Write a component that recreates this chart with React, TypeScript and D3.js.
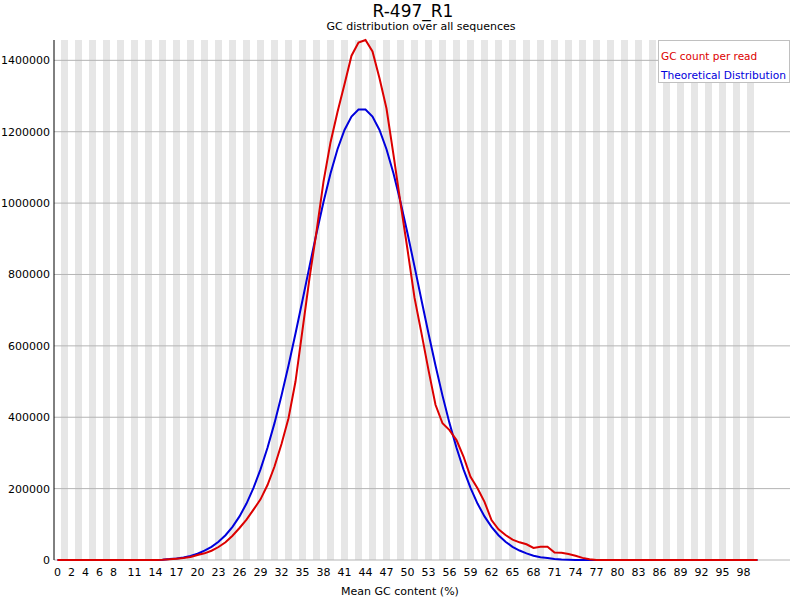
import * as d3 from 'd3'

// GC content (%) categories 0..100
const gcPercent: number[] = d3.range(0, 101)

// GC count per read
const gcCount: number[] = [
  0, 0, 0, 0, 0, 0, 0, 0, 0, 0,
  0, 0, 0, 0, 0, 500, 2000, 3700, 5600, 8400,
  14000, 18700, 26000, 36400, 49500, 68000, 89700, 113000, 141000, 170000,
  210000, 262000, 325000, 397000, 500000, 645000, 790000, 920000, 1060000, 1170000,
  1255000, 1333000, 1413000, 1450000, 1457000, 1425000, 1350000, 1265000, 1135000, 1000000,
  870000, 735000, 635000, 532000, 435000, 383000, 364000, 336000, 290000, 233000,
  201000, 163000, 112000, 86000, 70000, 57000, 49500, 44000, 33600, 37000,
  37000, 21000, 20000, 17000, 12000, 6000, 1900, 0, 0, 0,
  0, 0, 0, 0, 0, 0, 0, 0, 0, 0,
  0, 0, 0, 0, 0, 0, 0, 0, 0, 0,
  0,
]

// Theoretical distribution
const theoretical: number[] = [
  0, 0, 0, 0, 0, 0, 0, 0, 0, 0,
  0, 0, 0, 0, 300, 1000, 2500, 4500, 7000, 11000,
  17500, 26000, 37000, 51100, 69400, 92800, 122100, 158200, 202000, 253900,
  314500, 383500, 460600, 544800, 634600, 728000, 822700, 915500, 1003000, 1083000,
  1151000, 1205000, 1242500, 1262000, 1262000, 1242500, 1205000, 1151000, 1083000, 1003000,
  915500, 822700, 728000, 634600, 544800, 460600, 383500, 314500, 253900, 202000,
  158200, 122100, 92800, 69400, 51100, 37000, 26500, 18700, 12000, 8000,
  5500, 3000, 1500, 800, 300, 0, 0, 0, 0, 0,
  0, 0, 0, 0, 0, 0, 0, 0, 0, 0,
  0, 0, 0, 0, 0, 0, 0, 0, 0, 0,
  0,
]

const xTickLabels: number[] = [0, 2, 4, 6, 8, 11, 14, 17, 20, 23, 26, 29, 32, 35, 38, 41, 44, 47, 50, 53, 56, 59, 62, 65, 68, 71, 74, 77, 80, 83, 86, 89, 92, 95, 98]
const yTicks: number[] = [0, 200000, 400000, 600000, 800000, 1000000, 1200000, 1400000]

const W = 800
const H = 600
const left = 54
const right = W - 10
const top = 40
const bottom = H - 40
const font = '"DejaVu Sans", sans-serif'

export default function App() {
  const x = d3
    .scaleBand<number>()
    .domain(gcPercent)
    .range([left, left + 7 * gcPercent.length])
  const y = d3
    .scaleLinear()
    .domain([0, d3.max(gcCount) as number])
    .range([bottom, top])
  const cx = (i: number) => (x(i) as number) + x.bandwidth() / 2

  const line = d3
    .line<number>()
    .x((_, i) => cx(gcPercent[i]))
    .y(d => y(d))

  return (
    <svg
      width={W}
      height={H}
      style={{ position: 'absolute', left: 0, top: 0, background: '#fff' }}
      fontFamily={font}
    >
      <rect width={W} height={H} fill="#fff" />
      {gcPercent
        .filter(i => i % 2 === 1)
        .map(i => (
          <rect key={i} x={x(i)} y={top} width={x.bandwidth()} height={bottom - top} fill="#e6e6e6" />
        ))}
      {yTicks.map(t => (
        <g key={t}>
          <line x1={left} x2={right} y1={y(t)} y2={y(t)} stroke="#b4b4b4" strokeWidth={1} />
          <text x={50} y={y(t) + 4} textAnchor="end" fontSize={11} fill="#000">
            {t}
          </text>
        </g>
      ))}
      <line x1={left} x2={left} y1={top} y2={bottom} stroke="#000" strokeWidth={1} />
      {xTickLabels.map(t => (
        <text key={t} x={cx(t)} y={576} textAnchor="middle" fontSize={11} fill="#000">
          {t}
        </text>
      ))}
      <path d={line(theoretical) ?? ''} fill="none" stroke="#0000dc" strokeWidth={2} />
      <path d={line(gcCount) ?? ''} fill="none" stroke="#dc0000" strokeWidth={2} />
      <text x={413} y={17} textAnchor="middle" fontSize={17} fill="#000">
        R-497_R1
      </text>
      <text x={421} y={30} textAnchor="middle" fontSize={11} fill="#000">
        GC distribution over all sequences
      </text>
      <text x={400} y={595} textAnchor="middle" fontSize={11} fill="#000">
        Mean GC content (%)
      </text>
      <rect x={658.5} y={40.5} width={131} height={42} fill="#fff" stroke="#c0c0c0" />
      <text x={661} y={60} fontSize={10.5} fill="#dc0000">
        GC count per read
      </text>
      <text x={661} y={79} fontSize={10.5} fill="#0000dc" textLength={125} lengthAdjust="spacingAndGlyphs">
        Theoretical Distribution
      </text>
    </svg>
  )
}
